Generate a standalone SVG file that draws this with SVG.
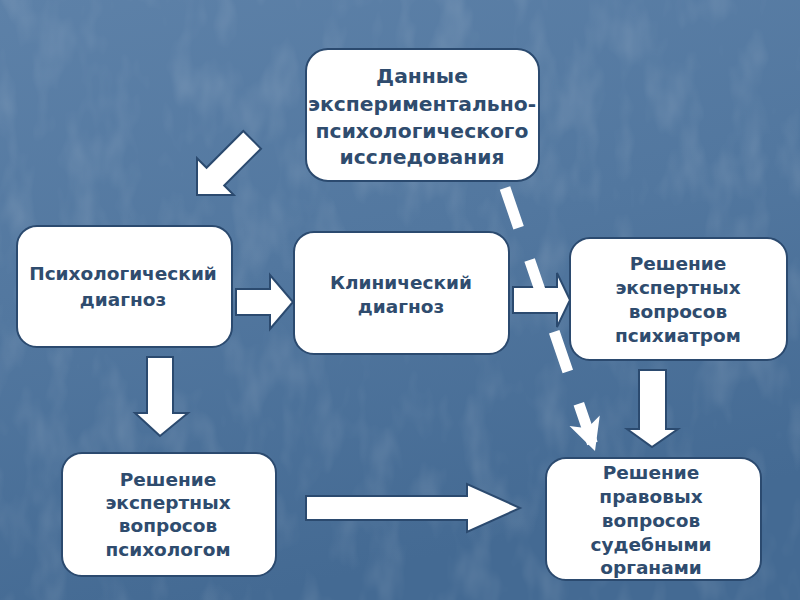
<svg xmlns="http://www.w3.org/2000/svg" width="800" height="600" viewBox="0 0 800 600">
<defs>
<linearGradient id="bg" x1="0" y1="0" x2="0.3" y2="1">
<stop offset="0" stop-color="#5d81a8"/>
<stop offset="0.5" stop-color="#52779f"/>
<stop offset="1" stop-color="#446a93"/>
</linearGradient>
<filter id="tex" x="0" y="0" width="100%" height="100%">
<feTurbulence type="fractalNoise" baseFrequency="0.03 0.015" numOctaves="3" seed="7" result="n"/>
<feColorMatrix in="n" type="matrix" values="0 0 0 0 1  0 0 0 0 1  0 0 0 0 1  0 0 0 1.6 -0.75"/>
</filter>
<marker id="head" markerUnits="userSpaceOnUse" markerWidth="40" markerHeight="40" viewBox="-34 -20 36 40" refX="0" refY="0" orient="auto">
<path d="M0,0 L-32,-16 L-24,0 L-32,16 Z" fill="#ffffff"/>
</marker>
<style>
.box{fill:#ffffff;stroke:#2b4a6f;stroke-width:2}
.arr{fill:#ffffff;stroke:#2b4a6f;stroke-width:2;stroke-linejoin:miter}
.t{font-family:"DejaVu Sans","Verdana",sans-serif;font-weight:bold;font-size:18.5px;fill:#2f4c6e;text-anchor:middle}
.tb{font-size:20.3px}
</style>
</defs>
<rect width="800" height="600" fill="url(#bg)"/>
<rect width="800" height="600" filter="url(#tex)" opacity="0.16"/>

<g id="connectors">
<path class="arr" transform="translate(197,195) rotate(135)" d="M-78,-12.5 L-26,-12.5 L-26,-26 L0,0 L-26,26 L-26,12.5 L-78,12.5 Z"/>
<path class="arr" d="M236,289 L270,289 L270,275 L293,302 L270,329 L270,315 L236,315 Z"/>
<path class="arr" d="M513,287 L557,287 L557,273 L570,300 L557,327 L557,313 L513,313 Z"/>
<path class="arr" d="M147,357 L173,357 L173,413 L188,413 L160,436 L135,413 L147,413 Z"/>
<path class="arr" d="M639,370 L666,370 L666,429 L678,429 L652,447 L627,429 L639,429 Z"/>
<path class="arr" d="M306,496 L467,496 L467,484 L520,508 L467,532 L467,520 L306,520 Z"/>
<line x1="505" y1="188" x2="595" y2="451" stroke="#ffffff" stroke-width="11" stroke-dasharray="42 34" marker-end="url(#head)"/>
</g>

<g id="n-data">
<rect class="box" x="306" y="49" width="233" height="132" rx="22"/>
<text class="t tb" x="422" y="83">Данные</text>
<text class="t tb" x="422" y="111">экспериментально-</text>
<text class="t tb" x="422" y="138">психологического</text>
<text class="t tb" x="422" y="164">исследования</text>
</g>

<g id="n-psydiag">
<rect class="box" x="17" y="226" width="215" height="121" rx="20"/>
<text class="t" x="123" y="280">Психологический</text>
<text class="t" x="123" y="306">диагноз</text>
</g>

<g id="n-clindiag">
<rect class="box" x="294" y="232" width="215" height="122" rx="20"/>
<text class="t" x="401" y="289">Клинический</text>
<text class="t" x="401" y="313">диагноз</text>
</g>

<g id="n-psychiatrist">
<rect class="box" x="570" y="238" width="217" height="122" rx="20"/>
<text class="t" x="678" y="270">Решение</text>
<text class="t" x="678" y="294">экспертных</text>
<text class="t" x="678" y="318">вопросов</text>
<text class="t" x="678" y="342">психиатром</text>
</g>

<g id="n-psychologist">
<rect class="box" x="62" y="453" width="214" height="123" rx="20"/>
<text class="t" x="168" y="486">Решение</text>
<text class="t" x="168" y="509">экспертных</text>
<text class="t" x="168" y="532">вопросов</text>
<text class="t" x="168" y="556">психологом</text>
</g>

<g id="n-legal">
<rect class="box" x="546" y="458" width="215" height="122" rx="20"/>
<text class="t" x="651" y="479">Решение</text>
<text class="t" x="651" y="503">правовых</text>
<text class="t" x="651" y="527">вопросов</text>
<text class="t" x="651" y="551">судебными</text>
<text class="t" x="651" y="574">органами</text>
</g>
</svg>
